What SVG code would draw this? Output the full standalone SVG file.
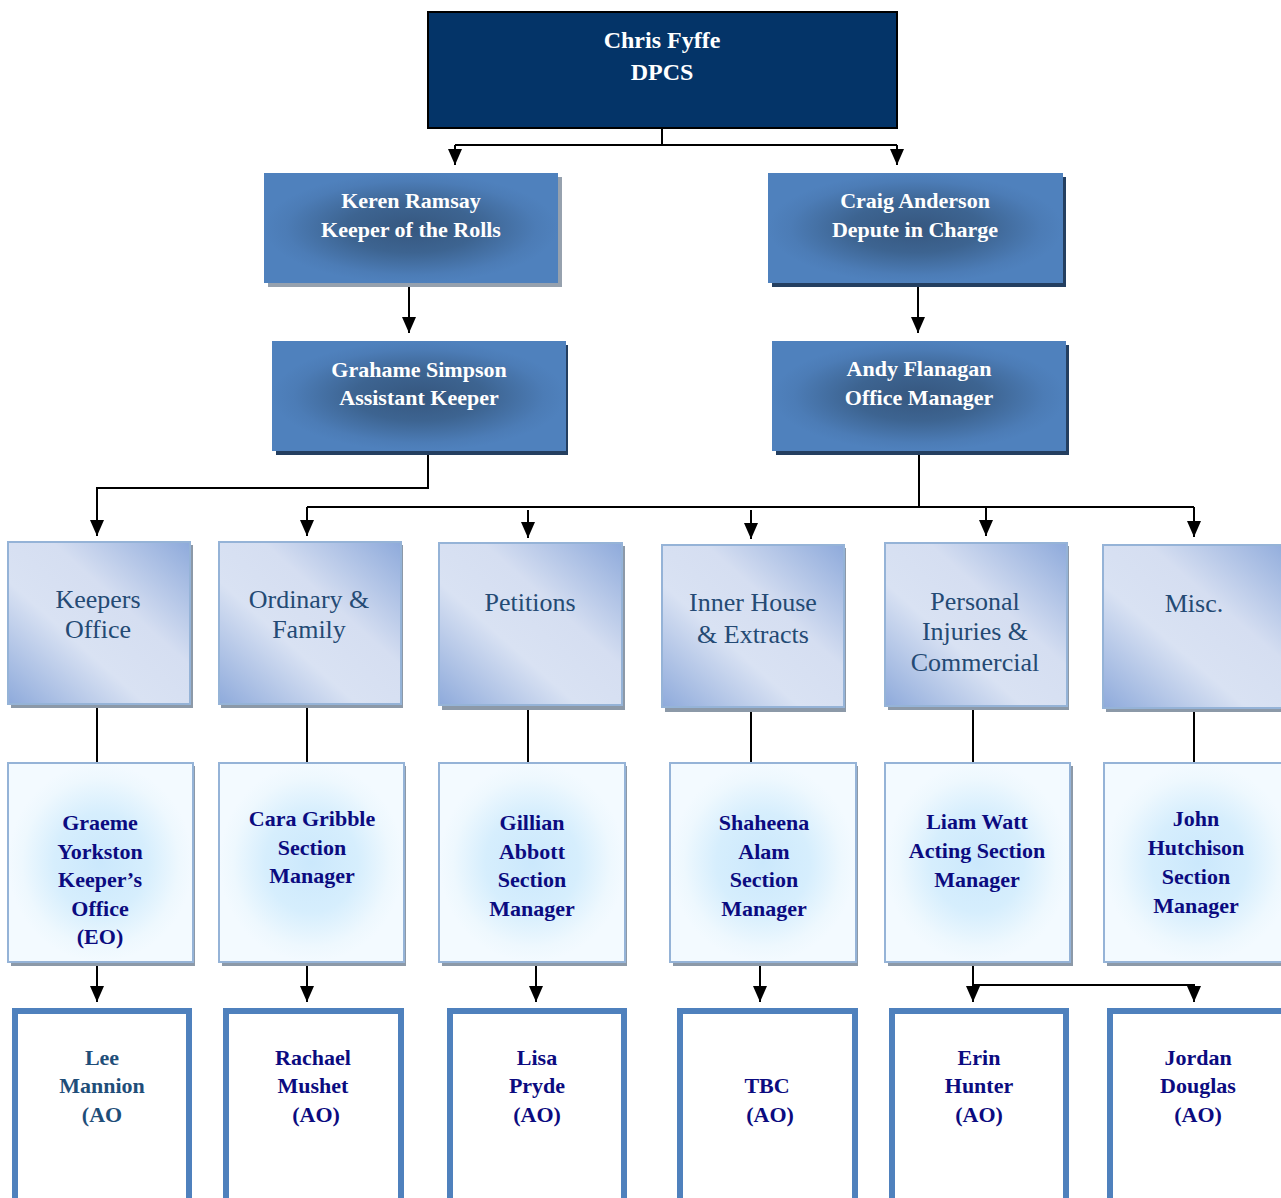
<svg xmlns="http://www.w3.org/2000/svg" width="1281" height="1198" viewBox="0 0 1281 1198">
<defs>
<style>
.t1{font-family:"Liberation Serif","Times New Roman",serif;font-weight:bold;font-size:24px;fill:#ffffff;text-anchor:middle}
.t2{font-family:"Liberation Serif","Times New Roman",serif;font-weight:bold;font-size:22px;fill:#ffffff;text-anchor:middle}
.t3{font-family:"Liberation Serif","Times New Roman",serif;font-size:26px;fill:#244a74;text-anchor:middle}
.t4{font-family:"Liberation Serif","Times New Roman",serif;font-weight:bold;font-size:22px;fill:#0b0b80;text-anchor:middle}
.t5{font-family:"Liberation Serif","Times New Roman",serif;font-weight:bold;font-size:22px;fill:#0b0b80;text-anchor:middle}
.lee{fill:#1f4e79}
.lvl2{fill:url(#g2)}
.sh-grey{fill:#96a1ae}
.sh-dark{fill:#243f60}
.sec{fill:url(#gs);stroke:#95b3d7;stroke-width:2}
.mgr{fill:url(#gm);stroke:#95b3d7;stroke-width:2}
.shd{fill:#8c99a8}
.ao{fill:#ffffff;stroke:#4f81bd;stroke-width:6}
.ln{stroke:#000;stroke-width:2;fill:none}
.ar{stroke:#000;stroke-width:2;fill:none;marker-end:url(#arr)}
</style>
<marker id="arr" viewBox="0 0 16 14" markerWidth="16" markerHeight="14" refX="16" refY="7" orient="auto" markerUnits="userSpaceOnUse">
<path d="M0,0 L16,7 L0,14 z" fill="#000"/>
</marker>
<radialGradient id="g2" cx="0.5" cy="0.5" r="0.5">
<stop offset="0" stop-color="#36577f"/>
<stop offset="0.45" stop-color="#3d6491"/>
<stop offset="0.85" stop-color="#4c7cb6"/>
<stop offset="1" stop-color="#4f81bd"/>
</radialGradient>
<linearGradient id="gs" x1="1" y1="0" x2="0" y2="1">
<stop offset="0" stop-color="#8eaadb"/>
<stop offset="0.38" stop-color="#d5def1"/>
<stop offset="0.62" stop-color="#d9e2f3"/>
<stop offset="1" stop-color="#8eaadb"/>
</linearGradient>
<radialGradient id="gm" cx="0.5" cy="0.5" r="0.5">
<stop offset="0" stop-color="#cbe8fc"/>
<stop offset="0.5" stop-color="#d6eefd"/>
<stop offset="0.85" stop-color="#eef8fe"/>
<stop offset="1" stop-color="#f3faff"/>
</radialGradient>
</defs>

<g id="connectors">
<path class="ln" d="M662,128 V145 M455,145 H897"/>
<line class="ar" x1="455" y1="145" x2="455" y2="165"/>
<line class="ar" x1="897" y1="145" x2="897" y2="165"/>
<line class="ar" x1="409" y1="283" x2="409" y2="333"/>
<line class="ar" x1="918" y1="283" x2="918" y2="333"/>
<path class="ar" d="M428,451 V488 H97 V536"/>
<path class="ln" d="M919,451 V507 M307,507 H1194"/>
<line class="ar" x1="307" y1="507" x2="307" y2="536"/>
<line class="ar" x1="528" y1="510" x2="528" y2="538"/>
<line class="ar" x1="751" y1="510" x2="751" y2="539"/>
<line class="ar" x1="986" y1="507" x2="986" y2="536"/>
<line class="ar" x1="1194" y1="507" x2="1194" y2="537"/>
<line class="ln" x1="97" y1="705" x2="97" y2="763"/>
<line class="ln" x1="307" y1="705" x2="307" y2="763"/>
<line class="ln" x1="528" y1="707" x2="528" y2="763"/>
<line class="ln" x1="751" y1="709" x2="751" y2="763"/>
<line class="ln" x1="973" y1="707" x2="973" y2="763"/>
<line class="ln" x1="1194" y1="709" x2="1194" y2="763"/>
<line class="ar" x1="97" y1="964" x2="97" y2="1002"/>
<line class="ar" x1="307" y1="964" x2="307" y2="1002"/>
<line class="ar" x1="536" y1="964" x2="536" y2="1002"/>
<line class="ar" x1="760" y1="964" x2="760" y2="1002"/>
<line class="ar" x1="973" y1="964" x2="973" y2="1002"/>
<path class="ar" d="M973,985 H1194 V1002"/>
</g>

<g id="chris">
<rect x="428" y="12" width="469" height="116" fill="#043468" stroke="#000" stroke-width="2"/>
<text class="t1" x="662" y="48">Chris Fyffe</text>
<text class="t1" x="662" y="80">DPCS</text>
</g>

<g id="keren">
<rect class="sh-grey" x="268" y="177" width="294" height="110"/>
<rect class="lvl2" x="264" y="173" width="294" height="110"/>
<text class="t2" x="411" y="208">Keren Ramsay</text>
<text class="t2" x="411" y="237">Keeper of the Rolls</text>
</g>

<g id="craig">
<rect class="sh-dark" x="772" y="177" width="294" height="110"/>
<rect class="lvl2" x="768" y="173" width="295" height="110"/>
<text class="t2" x="915" y="208">Craig Anderson</text>
<text class="t2" x="915" y="237">Depute in Charge</text>
</g>

<g id="grahame">
<rect class="sh-dark" x="276" y="345" width="292" height="110"/>
<rect class="lvl2" x="272" y="341" width="294" height="110"/>
<text class="t2" x="419" y="377">Grahame Simpson</text>
<text class="t2" x="419" y="405">Assistant Keeper</text>
</g>

<g id="andy">
<rect class="sh-dark" x="776" y="345" width="293" height="110"/>
<rect class="lvl2" x="772" y="341" width="294" height="110"/>
<text class="t2" x="919" y="376">Andy Flanagan</text>
<text class="t2" x="919" y="405">Office Manager</text>
</g>

<g id="keepers-office">
<rect class="shd" x="11" y="545" width="182" height="163"/>
<rect class="sec" x="8" y="542" width="182" height="162"/>
<text class="t3" x="98" y="608">Keepers</text>
<text class="t3" x="98" y="638">Office</text>
</g>

<g id="ordinary-family">
<rect class="shd" x="221" y="545" width="182" height="163"/>
<rect class="sec" x="219" y="542" width="182" height="162"/>
<text class="t3" x="309" y="608">Ordinary &amp;</text>
<text class="t3" x="309" y="638">Family</text>
</g>

<g id="petitions">
<rect class="shd" x="442" y="546" width="183" height="164"/>
<rect class="sec" x="439" y="543" width="183" height="162"/>
<text class="t3" x="530" y="611">Petitions</text>
</g>

<g id="inner-house">
<rect class="shd" x="665" y="548" width="181" height="164"/>
<rect class="sec" x="662" y="545" width="182" height="162"/>
<text class="t3" x="753" y="611">Inner House</text>
<text class="t3" x="753" y="643">&amp; Extracts</text>
</g>

<g id="personal-injuries">
<rect class="shd" x="888" y="546" width="181" height="164"/>
<rect class="sec" x="885" y="543" width="182" height="163"/>
<text class="t3" x="975" y="610">Personal</text>
<text class="t3" x="975" y="640">Injuries &amp;</text>
<text class="t3" x="975" y="671">Commercial</text>
</g>

<g id="misc">
<rect class="shd" x="1106" y="548" width="190" height="164"/>
<rect class="sec" x="1103" y="545" width="190" height="163"/>
<text class="t3" x="1194" y="612">Misc.</text>
</g>

<g id="graeme">
<rect class="shd" x="11" y="766" width="184" height="200"/>
<rect class="mgr" x="8" y="763" width="185" height="199"/>
<text class="t4" x="100" y="830">Graeme</text>
<text class="t4" x="100" y="859">Yorkston</text>
<text class="t4" x="100" y="887">Keeper’s</text>
<text class="t4" x="100" y="916">Office</text>
<text class="t4" x="100" y="944">(EO)</text>
</g>

<g id="cara">
<rect class="shd" x="222" y="766" width="184" height="200"/>
<rect class="mgr" x="219" y="763" width="185" height="199"/>
<text class="t4" x="312" y="826">Cara Gribble</text>
<text class="t4" x="312" y="855">Section</text>
<text class="t4" x="312" y="883">Manager</text>
</g>

<g id="gillian">
<rect class="shd" x="442" y="766" width="185" height="200"/>
<rect class="mgr" x="439" y="763" width="186" height="199"/>
<text class="t4" x="532" y="830">Gillian</text>
<text class="t4" x="532" y="859">Abbott</text>
<text class="t4" x="532" y="887">Section</text>
<text class="t4" x="532" y="916">Manager</text>
</g>

<g id="shaheena">
<rect class="shd" x="673" y="766" width="185" height="200"/>
<rect class="mgr" x="670" y="763" width="186" height="199"/>
<text class="t4" x="764" y="830">Shaheena</text>
<text class="t4" x="764" y="859">Alam</text>
<text class="t4" x="764" y="887">Section</text>
<text class="t4" x="764" y="916">Manager</text>
</g>

<g id="liam">
<rect class="shd" x="888" y="766" width="185" height="200"/>
<rect class="mgr" x="885" y="763" width="185" height="199"/>
<text class="t4" x="977" y="829">Liam Watt</text>
<text class="t4" x="977" y="858">Acting Section</text>
<text class="t4" x="977" y="887">Manager</text>
</g>

<g id="john">
<rect class="shd" x="1107" y="766" width="190" height="200"/>
<rect class="mgr" x="1104" y="763" width="190" height="199"/>
<text class="t4" x="1196" y="826">John</text>
<text class="t4" x="1196" y="855">Hutchison</text>
<text class="t4" x="1196" y="884">Section</text>
<text class="t4" x="1196" y="913">Manager</text>
</g>

<g id="lee">
<rect class="ao" x="15" y="1011" width="174" height="200"/>
<text class="t5 lee" x="102" y="1065">Lee</text>
<text class="t5 lee" x="102" y="1093">Mannion</text>
<text class="t5 lee" x="102" y="1122">(AO</text>
</g>

<g id="rachael">
<rect class="ao" x="226" y="1011" width="175" height="200"/>
<text class="t5" x="313" y="1065">Rachael</text>
<text class="t5" x="313" y="1093">Mushet</text>
<text class="t5" x="316" y="1122">(AO)</text>
</g>

<g id="lisa">
<rect class="ao" x="450" y="1011" width="174" height="200"/>
<text class="t5" x="537" y="1065">Lisa</text>
<text class="t5" x="537" y="1093">Pryde</text>
<text class="t5" x="537" y="1122">(AO)</text>
</g>

<g id="tbc">
<rect class="ao" x="680" y="1011" width="175" height="200"/>
<text class="t5" x="767" y="1093">TBC</text>
<text class="t5" x="770" y="1122">(AO)</text>
</g>

<g id="erin">
<rect class="ao" x="892" y="1011" width="174" height="200"/>
<text class="t5" x="979" y="1065">Erin</text>
<text class="t5" x="979" y="1093">Hunter</text>
<text class="t5" x="979" y="1122">(AO)</text>
</g>

<g id="jordan">
<rect class="ao" x="1110" y="1011" width="180" height="200"/>
<text class="t5" x="1198" y="1065">Jordan</text>
<text class="t5" x="1198" y="1093">Douglas</text>
<text class="t5" x="1198" y="1122">(AO)</text>
</g>
</svg>
